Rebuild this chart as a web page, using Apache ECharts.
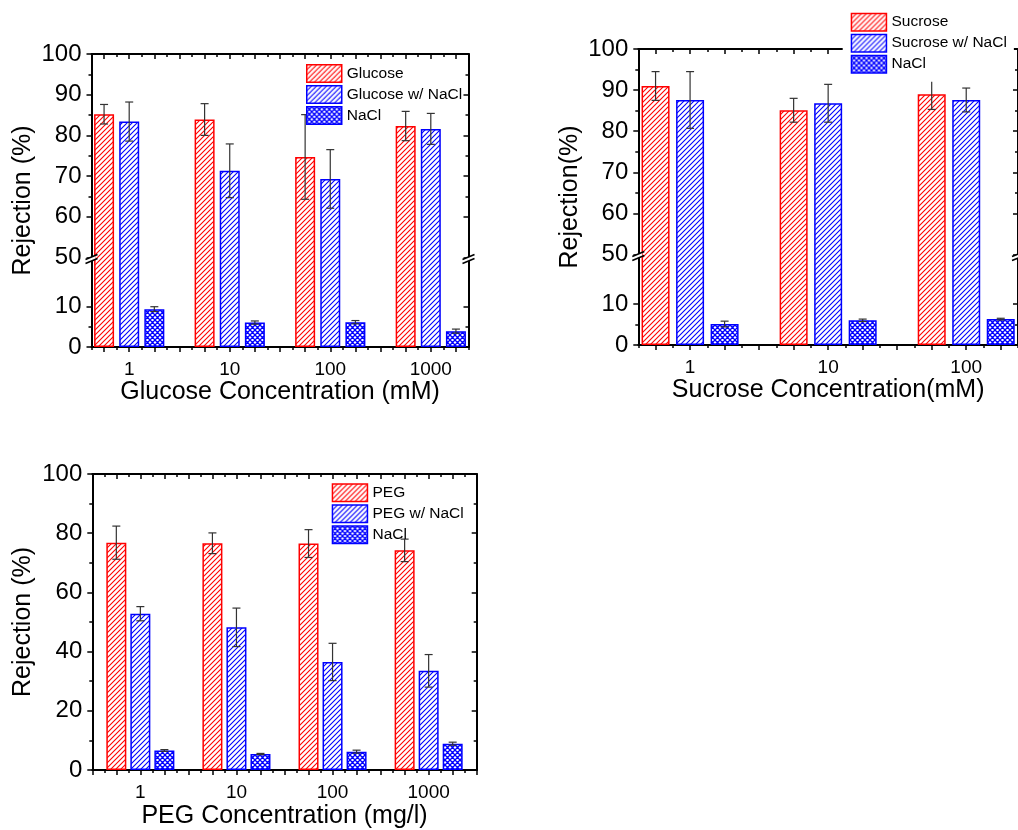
<!DOCTYPE html>
<html><head><meta charset="utf-8">
<script src="https://cdn.jsdelivr.net/npm/echarts@6/dist/echarts.min.js"></script>
<style>html,body{margin:0;padding:0;background:#fff}#c{width:1018px;height:830px}</style>
</head><body><div id="c"></div>
<script>
// ---------- data ----------
const concLabels = ['1', '10', '100', '1000'];
const sucroseConcLabels = ['1', '10', '100'];
const pegConcLabels = ['1', '10', '100', '1000'];

const glucose = [85.2, 83.9, 74.7, 82.3];
const glucoseErr = [2.4, 3.9, 10.4, 3.6];
const glucoseWithNaCl = [83.4, 71.3, 69.3, 81.6];
const glucoseWithNaClErr = [4.8, 6.6, 7.2, 3.8];
const naclGlucose = [9.3, 6.0, 6.1, 3.9];
const naclGlucoseErr = [0.6, 0.4, 0.4, 0.5];

const sucrose = [91.0, 85.1, 89.0];
const sucroseErr = [3.5, 2.9, 3.7];
const sucroseWithNaCl = [87.6, 86.8, 87.6];
const sucroseWithNaClErr = [6.9, 4.6, 2.9];
const naclSucrose = [5.1, 6.0, 6.3];
const naclSucroseErr = [0.7, 0.3, 0.2];

const peg = [76.8, 76.6, 76.5, 74.2];
const pegErr = [5.6, 3.5, 4.7, 3.8];
const pegWithNaCl = [52.8, 48.2, 36.5, 33.5];
const pegWithNaClErr = [2.4, 6.5, 6.3, 5.5];
const naclPeg = [6.6, 5.4, 6.2, 8.9];
const naclPegErr = [0.3, 0.2, 0.5, 0.5];

// ---------- styling ----------
const FONT = 'Liberation Sans, Arial, Helvetica, sans-serif';
const RED = '#ff0000', BLUE = '#0000ff', ERR = '#333333';

function makePattern(color, cross) {
  const s = 5;
  const c = document.createElement('canvas');
  c.width = s; c.height = s;
  const g = c.getContext('2d');
  g.fillStyle = '#ffffff'; g.fillRect(0, 0, s, s);
  g.strokeStyle = color; g.lineWidth = cross ? 1.3 : 1.1;
  g.beginPath();
  g.moveTo(-1, s + 1); g.lineTo(s + 1, -1);
  g.moveTo(-2, 2); g.lineTo(2, -2);
  g.moveTo(s - 2, s + 2); g.lineTo(s + 2, s - 2);
  if (cross) {
    g.moveTo(-1, -1); g.lineTo(s + 1, s + 1);
    g.moveTo(-2, s - 2); g.lineTo(2, s + 2);
    g.moveTo(s - 2, -2); g.lineTo(s + 2, 2);
  }
  g.stroke();
  return { image: c, repeat: 'repeat' };
}
const redHatch = makePattern(RED, false);
const blueHatch = makePattern(BLUE, false);
const blueCross = makePattern(BLUE, true);

const panels = [
  {
    grid: { left: 91.5, top: 54, width: 377, height: 293 },
    xMin: 0.5, xMax: 15.5, labels: concLabels, yInterval: 10, yMinorSplit: 2, breakStart: 22,
    barWidth: 20, names: ['Glucose', 'Glucose w/ NaCl', 'NaCl'],
    vals: [glucose, glucoseWithNaCl, naclGlucose], errs: [glucoseErr, glucoseWithNaClErr, naclGlucoseErr],
    xName: 'Glucose Concentration (mM)', yName: 'Rejection (%)', xNameGap: 33, yNameGap: 56,
    legend: { left: 306, top: 64, padding: 0 }
  },
  {
    grid: { left: 638.3, top: 49, width: 382.8, height: 296 },
    xMin: 0.5, xMax: 11.5, labels: sucroseConcLabels, yInterval: 10, yMinorSplit: 2, breakStart: 22,
    barWidth: 28, names: ['Sucrose', 'Sucrose w/ NaCl', 'NaCl'],
    vals: [sucrose, sucroseWithNaCl, naclSucrose], errs: [sucroseErr, sucroseWithNaClErr, naclSucroseErr],
    xName: 'Sucrose Concentration(mM)', yName: 'Rejection(%)', xNameGap: 33, yNameGap: 56,
    legend: { left: 842.7, top: 4.7, padding: [8, 7, 8, 8], backgroundColor: '#ffffff' }
  },
  {
    grid: { left: 92.3, top: 474, width: 384.4, height: 296.7 },
    xMin: 0, xMax: 16, labels: pegConcLabels, yInterval: 20, yMinorSplit: 2, breakStart: null,
    barWidth: 20, names: ['PEG', 'PEG w/ NaCl', 'NaCl'],
    vals: [peg, pegWithNaCl, naclPeg], errs: [pegErr, pegWithNaClErr, naclPegErr],
    xName: 'PEG Concentration (mg/l)', yName: 'Rejection (%)', xNameGap: 34, yNameGap: 57,
    legend: { left: 331.7, top: 483.3, padding: 0 }
  }
];

const fills = [redHatch, blueHatch, blueCross];
const borders = [RED, BLUE, BLUE];

const option = {
  animation: false, backgroundColor: '#ffffff',
  grid: [], xAxis: [], yAxis: [], series: [], legend: []
};
const axisRefs = [];

panels.forEach((p, pi) => {
  option.grid.push(Object.assign({ containLabel: false }, p.grid));
  const ints = [], halves = [];
  for (let v = Math.ceil(p.xMin); v <= p.xMax + 1e-9; v++) ints.push(v);
  for (let v = Math.floor(p.xMin) + 0.5; v <= p.xMax + 1e-9; v++) if (v >= p.xMin - 1e-9) halves.push(v);
  const labelPos = p.labels.map((_, g) => 4 * g + 2);
  const lineStyle = { color: '#000', width: 2 };
  const tickStyle = { color: '#000', width: 1.5 };
  const xb = option.xAxis.length;
  option.xAxis.push({
    type: 'value', gridIndex: pi, min: p.xMin, max: p.xMax, position: 'bottom',
    splitLine: { show: false },
    axisLine: { show: true, onZero: false, lineStyle: lineStyle },
    axisTick: { show: true, inside: false, length: 5, customValues: ints, lineStyle: tickStyle },
    axisLabel: {
      show: true, customValues: labelPos, margin: 13, color: '#000', fontSize: 19, fontFamily: FONT,
      formatter: v => p.labels[Math.round((v - 2) / 4)] || ''
    },
    name: p.xName, nameLocation: 'middle', nameGap: p.xNameGap,
    nameTextStyle: { color: '#000', fontSize: 25, fontFamily: FONT }
  });
  option.xAxis.push({
    type: 'value', gridIndex: pi, min: p.xMin, max: p.xMax, position: 'bottom',
    splitLine: { show: false }, axisLine: { show: false, onZero: false },
    axisTick: { show: true, inside: false, length: 3, customValues: halves, lineStyle: tickStyle },
    axisLabel: { show: false }
  });
  option.xAxis.push({
    type: 'value', gridIndex: pi, min: p.xMin, max: p.xMax, position: 'top',
    splitLine: { show: false },
    axisLine: { show: true, onZero: false, lineStyle: lineStyle },
    axisTick: { show: true, inside: true, length: 5, customValues: ints, lineStyle: tickStyle },
    axisLabel: { show: false }
  });
  option.xAxis.push({
    type: 'value', gridIndex: pi, min: p.xMin, max: p.xMax, position: 'top',
    splitLine: { show: false }, axisLine: { show: false, onZero: false },
    axisTick: { show: true, inside: true, length: 3, customValues: halves, lineStyle: tickStyle },
    axisLabel: { show: false }
  });

  const yb = option.yAxis.length;
  const yCommon = {
    type: 'value', gridIndex: pi, min: 0, max: 100, interval: p.yInterval,
    splitLine: { show: false }, minorSplitLine: { show: false }
  };
  if (p.breakStart != null) {
    yCommon.breaks = [{ start: p.breakStart, end: 50, gap: 0 }];
    yCommon.breakArea = { show: false, expandOnClick: false };
    yCommon.breakLabelLayout = { moveOverlap: false };
  }
  option.yAxis.push(Object.assign({}, yCommon, {
    position: 'left',
    axisLine: { show: true, onZero: false, lineStyle: lineStyle },
    axisTick: { show: true, inside: false, length: 5, lineStyle: tickStyle },
    minorTick: { show: true, splitNumber: p.yMinorSplit, length: 3, lineStyle: tickStyle },
    axisLabel: {
      show: true, margin: 10, color: '#000', fontSize: 24, fontFamily: FONT, hideOverlap: false,
      formatter: v => (p.breakStart != null && v > 10 + 1e-6 && v < 50 - 1e-6) ? '' : String(v)
    },
    name: p.yName, nameLocation: 'middle', nameGap: p.yNameGap, nameRotate: 90,
    nameTextStyle: { color: '#000', fontSize: 25, fontFamily: FONT }
  }));
  option.yAxis.push(Object.assign({}, yCommon, {
    position: 'right',
    axisLine: { show: true, onZero: false, lineStyle: lineStyle },
    axisTick: { show: true, inside: true, length: 5, lineStyle: tickStyle },
    minorTick: { show: true, splitNumber: p.yMinorSplit, length: 3, lineStyle: tickStyle },
    axisLabel: { show: false }
  }));

  const errData = [];
  p.vals.forEach((arr, k) => {
    option.series.push({
      type: 'bar', name: p.names[k], xAxisIndex: xb, yAxisIndex: yb,
      barWidth: p.barWidth, barGap: '-100%',
      itemStyle: { color: fills[k], borderColor: borders[k], borderWidth: 1.5 },
      data: arr.map((v, g) => [4 * g + k + 1, v])
    });
    arr.forEach((v, g) => errData.push([4 * g + k + 1, v, p.errs[k][g]]));
  });
  option.series.push({
    type: 'custom', xAxisIndex: xb, yAxisIndex: yb, z: 5,
    encode: { x: 0, y: 1 },
    data: errData,
    renderItem: (params, api) => {
      const x = api.value(0), v = api.value(1), e = api.value(2);
      const t = api.coord([x, v + e]), b = api.coord([x, v - e]);
      const w = 4, st = { stroke: ERR, lineWidth: 1.2 };
      return {
        type: 'group', children: [
          { type: 'line', shape: { x1: t[0], y1: t[1], x2: b[0], y2: b[1] }, style: st },
          { type: 'line', shape: { x1: t[0] - w, y1: t[1], x2: t[0] + w, y2: t[1] }, style: st },
          { type: 'line', shape: { x1: b[0] - w, y1: b[1], x2: b[0] + w, y2: b[1] }, style: st }
        ]
      };
    }
  });

  option.legend.push(Object.assign({
    orient: 'vertical', icon: 'rect', itemWidth: 35, itemHeight: 17.5, itemGap: 2,
    data: p.names, selectedMode: false, z: 10,
    itemStyle: { borderWidth: 1.5, opacity: 1 },
    textStyle: { color: '#000', fontSize: 15.5, fontFamily: FONT }
  }, p.legend));

  axisRefs.push({ xb, yb, p });
});

const chart = echarts.init(document.getElementById('c'), null, { renderer: 'canvas' });
chart.setOption(option);

// axis-break marks (decoration)
const graphics = [];
axisRefs.forEach(({ xb, yb, p }) => {
  if (p.breakStart == null) return;
  const cy = chart.convertToPixel({ yAxisIndex: yb }, 50);
  [p.xMin, p.xMax].forEach(xv => {
    const cx = chart.convertToPixel({ xAxisIndex: xb }, xv);
    graphics.push({
      type: 'polygon', z: 100,
      shape: { points: [[cx - 4, cy + 1.2], [cx + 4, cy - 2.2], [cx + 4, cy + 1.8], [cx - 4, cy + 5.2]] },
      style: { fill: '#ffffff' }
    });
    graphics.push({ type: 'line', z: 101, shape: { x1: cx - 6, y1: cy + 2, x2: cx + 6, y2: cy - 3 }, style: { stroke: '#000', lineWidth: 1.6 } });
    graphics.push({ type: 'line', z: 101, shape: { x1: cx - 6, y1: cy + 6, x2: cx + 6, y2: cy + 1 }, style: { stroke: '#000', lineWidth: 1.6 } });
  });
});
chart.setOption({ graphic: graphics });
</script>
</body></html>
